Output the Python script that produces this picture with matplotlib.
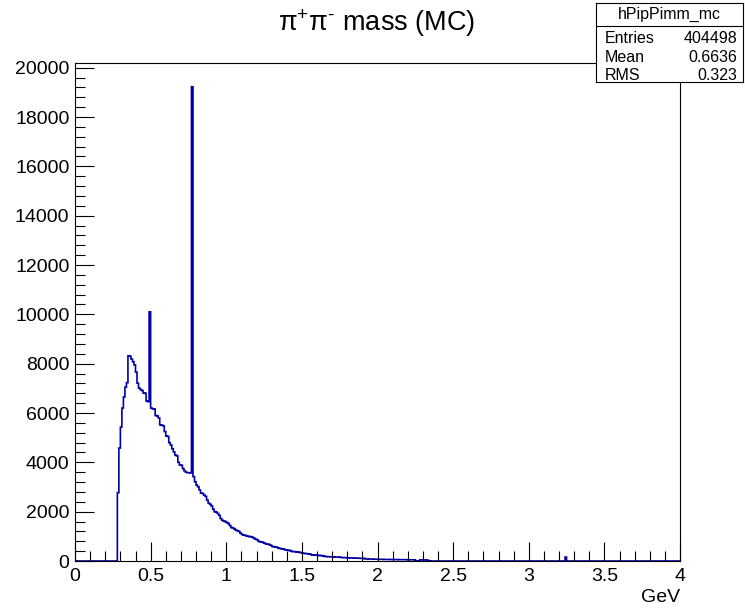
import numpy as np
import matplotlib
matplotlib.use("Agg")
import matplotlib.pyplot as plt
from matplotlib.ticker import MultipleLocator

plt.rcParams["font.family"] = ["Liberation Sans", "DejaVu Sans"]
plt.rcParams["mathtext.fontset"] = "custom"
plt.rcParams["mathtext.rm"] = "Liberation Sans"
plt.rcParams["mathtext.it"] = "Liberation Sans"
plt.rcParams["mathtext.bf"] = "Liberation Sans:bold"

# histogram: 400 bins, 0 - 4 GeV (0.01 GeV per bin)
N_BINS = 400
X_MIN, X_MAX = 0.0, 4.0

# bin contents, starting at 0.28 GeV
FIRST_BIN = 0.28
counts = [
    2770, 4580, 5430, 6200, 6650, 7050, 7230, 8320, 8300, 8190,   # 0.28
    8080, 7950, 7660, 7210, 7010, 6950, 6910, 6810, 6800, 6490,   # 0.38
    6460, 10100, 6200, 6170, 6160, 5900, 5880, 5800, 5520, 5510,  # 0.48
    5480, 5250, 5070, 5050, 4800, 4700, 4550, 4420, 4300, 4260,   # 0.58
    4000, 3890, 3880, 3750, 3660, 3600, 3580, 3580, 3570, 19230,  # 0.68
    3420, 3215, 3080, 3010, 2880, 2750, 2740, 2670, 2620, 2470,   # 0.78
    2350, 2300, 2230, 2100, 2000, 1980, 1930, 1850, 1720, 1650,   # 0.88
    1620, 1600, 1560, 1520, 1440, 1360, 1340, 1300, 1250, 1230,   # 0.98
    1200, 1130, 1080, 1050, 1040, 1020, 1000, 990, 985, 960,      # 1.08
    920, 890, 860, 800, 780, 770, 750, 720, 690, 680,             # 1.18
    670, 640, 590, 580, 570, 560, 520, 510, 500, 490,             # 1.28
    470, 450, 440, 430, 420, 390, 380, 380, 370, 360,             # 1.38
    350, 340, 320, 310, 300, 300, 290, 280, 250, 245,             # 1.48
    240, 235, 230, 225, 220, 215, 210, 180, 178, 175,             # 1.58
    172, 170, 168, 165, 160, 158, 155, 150, 140, 138,             # 1.68
    135, 133, 130, 128, 125, 122, 120, 118, 115, 112,             # 1.78
    110, 108, 105, 100, 85, 82, 80, 78, 76, 75,                   # 1.88
    73, 72, 70, 68, 68, 66, 65, 64, 63, 62,                       # 1.98
    60, 60, 58, 58, 57, 56, 55, 54, 54, 53,                       # 2.08
    52, 52, 50, 50, 48, 48, 46, 12, 10, 10,                       # 2.18
    45, 44, 43, 42, 40, 20, 10,                                   # 2.28
]
# lone entry far in the tail
tail_bin = 3.24
tail_count = 160

stats_name = "hPipPimm_mc"
stats_rows = [("Entries", "404498"), ("Mean", "0.6636"), ("RMS", "0.323")]

LINE_COLOR = "#0000a8"

edges = np.linspace(X_MIN, X_MAX, N_BINS + 1)
values = np.zeros(N_BINS)
i0 = int(round(FIRST_BIN * 100))
values[i0:i0 + len(counts)] = counts
values[int(round(tail_bin * 100))] = tail_count

W, H = 745, 610
fig = plt.figure(figsize=(W / 100, H / 100), dpi=100)
ax = fig.add_axes([75 / W, 49 / H, 605 / W, 498 / H])

hist = ax.stairs(values, edges, color=LINE_COLOR, lw=1.2, baseline=0)
hist.set_snap(False)

ax.set_xlim(X_MIN, X_MAX)
ax.set_ylim(0, 20190)

# ROOT-like ticks: inside, bottom and left only
ax.xaxis.set_major_locator(MultipleLocator(0.5))
ax.xaxis.set_minor_locator(MultipleLocator(0.1))
ax.yaxis.set_major_locator(MultipleLocator(2000))
ax.yaxis.set_minor_locator(MultipleLocator(400))
ax.tick_params(which="both", direction="in", top=False, right=False,
               labelsize=14, width=0.8, color="black")
ax.tick_params(which="major", length=14)
ax.tick_params(which="minor", length=7)
ax.tick_params(axis="x", pad=5)
ax.tick_params(axis="y", pad=4)
ax.xaxis.set_major_formatter(plt.FuncFormatter(lambda v, p: f"{v:g}"))
ax.yaxis.set_major_formatter(plt.FuncFormatter(lambda v, p: f"{v:g}"))
for s in ax.spines.values():
    s.set_linewidth(0.8)

# title and axis label
fig.text(377 / W, 1 - 23 / H, "π$^{+}$π$^{\u2010}$ mass (MC)", ha="center",
         va="center", fontsize=19.5)
fig.text(680 / W, 1 - 597 / H, "GeV", ha="right", va="center", fontsize=14)

# stats box
bx0, bx1, by0, by1 = 596, 743, 3, 82
sax = fig.add_axes([bx0 / W, 1 - by1 / H, (bx1 - bx0) / W, (by1 - by0) / H])
sax.set_xlim(0, 1)
sax.set_ylim(0, 1)
sax.set_xticks([])
sax.set_yticks([])
sax.set_facecolor("white")
for s in sax.spines.values():
    s.set_linewidth(0.8)
row_h = 1 / 4.3
sax.axhline(1 - 1.25 * row_h, color="black", lw=0.8)
sax.text(0.5, 1 - 0.6 * row_h, stats_name, ha="center", va="center",
         fontsize=11.5)
for k, (lab, val) in enumerate(stats_rows):
    y = 1 - (1.95 + k * 1.0) * row_h
    sax.text(0.06, y, lab, ha="left", va="center", fontsize=11.5)
    sax.text(0.96, y, val, ha="right", va="center", fontsize=11.5)

fig.savefig("out.png", dpi=100)
